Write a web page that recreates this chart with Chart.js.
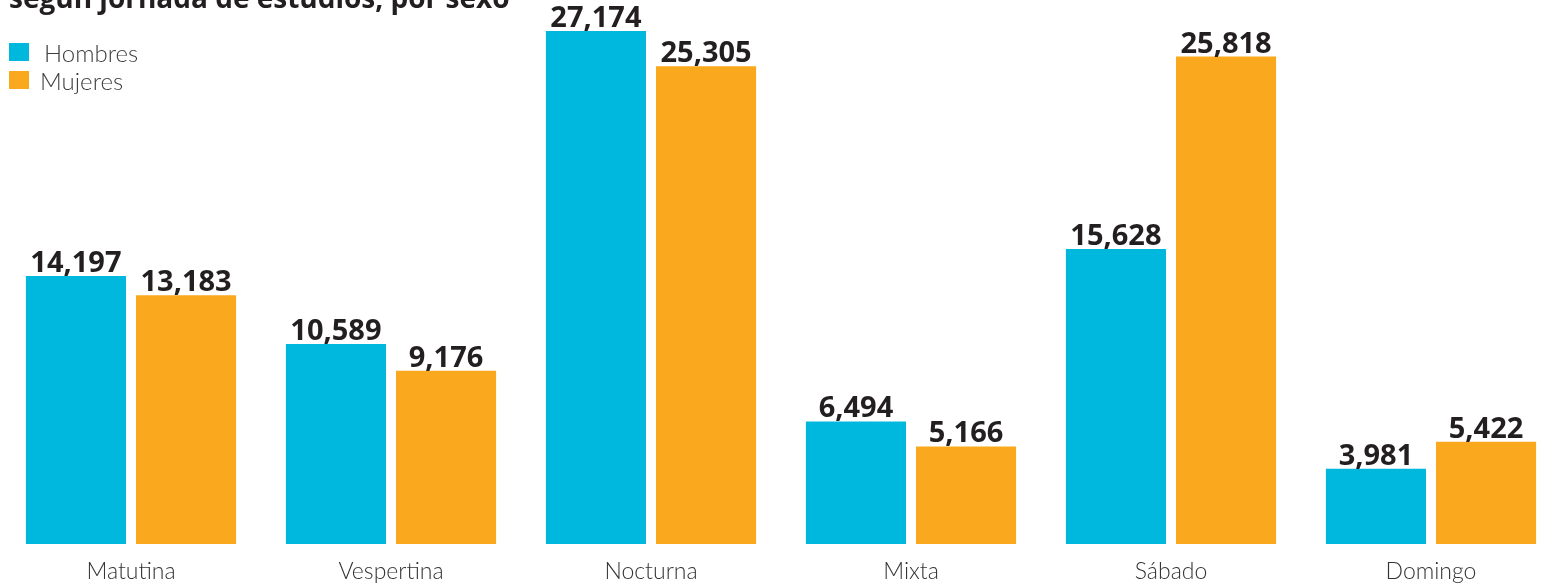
<!DOCTYPE html>
<html>
<head>
<meta charset="utf-8">
<script src="https://cdn.jsdelivr.net/npm/chart.js@4"></script>
<style>
  html, body { margin: 0; padding: 0; background: #fff; overflow: hidden; width: 1551px; height: 588px; }
  #wrap { position: absolute; left: 0; top: 0; width: 1561px; height: 588px; }
  #title { position: absolute; left: 9px; top: -22px; font-family: "Open Sans", sans-serif; font-weight: 700; font-size: 28px; color: #231f20; white-space: nowrap; }
  #legend { position: absolute; left: 9px; top: 40px; font-family: "Lato", "Open Sans", sans-serif; font-weight: 300; font-size: 24px; color: #3d3d3d; }
  .item { position: relative; height: 28px; line-height: 28px; }
  .sw { position: absolute; left: 0; top: 3px; width: 20px; height: 18px; }
  .lbl { position: absolute; white-space: nowrap; top: -1px; }
</style>
</head>
<body>
<div id="wrap"><canvas id="c"></canvas></div>
<div id="title">según jornada de estudios, por sexo</div>
<div id="legend"></div>
<script>
const categories = ["Matutina", "Vespertina", "Nocturna", "Mixta", "Sábado", "Domingo"];
const seriesNames = ["Hombres", "Mujeres"];
const hombres = [14197, 10589, 27174, 6494, 15628, 3981];
const mujeres = [13183, 9176, 25305, 5166, 25818, 5422];
const colors = ["#00b7de", "#faa81d"];

// HTML legend built from series names
const leg = document.getElementById('legend');
seriesNames.forEach((n, i) => {
  const d = document.createElement('div');
  d.className = 'item';
  d.innerHTML = '<span class="sw" style="background:' + colors[i] + '"></span><span class="lbl" style="left:' + (i === 0 ? 35 : 31) + 'px">' + n + '</span>';
  leg.appendChild(d);
});

const valueLabels = {
  id: 'valueLabels',
  afterDatasetsDraw(chart) {
    const ctx = chart.ctx;
    ctx.save();
    ctx.font = '700 29px "Open Sans", sans-serif';
    ctx.fillStyle = '#231f20';
    ctx.textAlign = 'center';
    ctx.textBaseline = 'alphabetic';
    chart.data.datasets.forEach((ds, di) => {
      const meta = chart.getDatasetMeta(di);
      meta.data.forEach((bar, i) => {
        ctx.fillText(ds.data[i].toLocaleString('en-US'), bar.x, bar.y - 4);
      });
    });
    ctx.restore();
  }
};

new Chart(document.getElementById('c'), {
  type: 'bar',
  data: {
    labels: categories,
    datasets: [
      { label: seriesNames[0], data: hombres, backgroundColor: colors[0] },
      { label: seriesNames[1], data: mujeres, backgroundColor: colors[1] }
    ]
  },
  options: {
    responsive: true,
    maintainAspectRatio: false,
    animation: false,
    datasets: { bar: { categoryPercentage: 0.847, barPercentage: 0.909 } },
    layout: { padding: { left: 1, right: 0, top: 0, bottom: 0 } },
    plugins: { legend: { display: false }, tooltip: { enabled: false } },
    scales: {
      x: {
        grid: { display: false },
        border: { display: false },
        afterFit: (s) => { s.height = 44; },
        ticks: { color: '#333', padding: 6, font: { family: '"Lato", "Open Sans", sans-serif', size: 23, weight: 300 } }
      },
      y: {
        display: false,
        min: 0,
        max: 28816
      }
    }
  },
  plugins: [valueLabels]
});
</script>
</body>
</html>
